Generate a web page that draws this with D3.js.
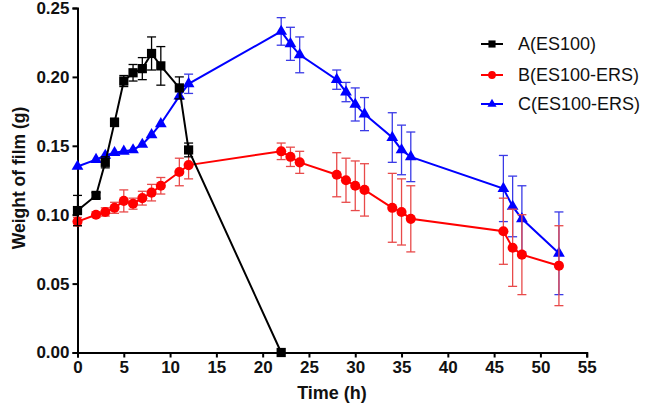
<!DOCTYPE html>
<html><head><meta charset="utf-8">
<script src="https://cdn.jsdelivr.net/npm/d3@7"></script>
<style>body{margin:0;background:#fff}svg{display:block}text{font-family:"Liberation Sans",Arial,sans-serif}</style>
</head><body><svg id="c" width="649" height="408"></svg>
<script>
const xTicks = [0,5,10,15,20,25,30,35,40,45,50,55];
const yTicks = [0.00,0.05,0.10,0.15,0.20,0.25];
const seriesNames = ["A(ES100)","B(ES100-ERS)","C(ES100-ERS)"];

const timeA = [0,2,3,4,5,6,7,8,9,11,12,22];
const valA  = [0.103,0.114,0.138,0.167,0.197,0.203,0.206,0.217,0.208,0.192,0.147,0.000];
const errA  = [0.011,0.002,0.004,0.003,0.004,0.006,0.008,0.012,0.014,0.008,0.005,0.000];

const timeBC = [0,2,3,4,5,6,7,8,9,11,12,22,23,24,28,29,30,31,34,35,36,46,47,48,52];
const valB = [0.095,0.100,0.102,0.105,0.110,0.108,0.112,0.116,0.121,0.131,0.136,0.146,0.142,0.138,0.129,0.125,0.121,0.118,0.105,0.102,0.097,0.088,0.076,0.071,0.063];
const errB = [0.003,0.002,0.003,0.004,0.008,0.004,0.005,0.006,0.006,0.010,0.010,0.006,0.007,0.008,0.016,0.016,0.018,0.019,0.025,0.024,0.024,0.024,0.028,0.029,0.029];
const valC = [0.135,0.140,0.143,0.145,0.146,0.147,0.151,0.158,0.166,0.186,0.195,0.233,0.224,0.216,0.198,0.189,0.180,0.173,0.156,0.147,0.142,0.119,0.106,0.097,0.072];
const errC = [0.000,0.000,0.000,0.000,0.000,0.000,0.000,0.000,0.000,0.000,0.007,0.010,0.012,0.013,0.007,0.007,0.012,0.012,0.018,0.018,0.018,0.024,0.022,0.024,0.030];

const series = [
  {name:seriesNames[0], t:timeA, v:valA, e:errA, color:"#000000", err:"#000000", sym:d3.symbolSquare, size:85},
  {name:seriesNames[1], t:timeBC, v:valB, e:errB, color:"#ff0000", err:"#e84a4a", sym:d3.symbolCircle, size:80},
  {name:seriesNames[2], t:timeBC, v:valC, e:errC, color:"#0000ff", err:"#3a3ae6", sym:d3.symbolTriangle, size:60}
];

const svg = d3.select("#c");
const x = d3.scaleLinear().domain([0,55]).range([77.5,586.7]);
const y = d3.scaleLinear().domain([0,0.25]).range([352.5,8]);

const xAxis = svg.append("g").attr("transform","translate(0,352.5)")
  .call(d3.axisBottom(x).tickValues(xTicks).tickSize(5).tickPadding(3).tickFormat(d3.format("d")));
const yAxis = svg.append("g").attr("transform","translate(77.5,0)")
  .call(d3.axisLeft(y).tickValues(yTicks).tickSize(5).tickPadding(3).tickFormat(d3.format(".2f")));
[xAxis,yAxis].forEach(a=>{
  a.select(".domain").attr("stroke","#000").attr("stroke-width",2);
  a.selectAll(".tick line").attr("stroke","#000").attr("stroke-width",2);
  a.selectAll(".tick text").attr("fill","#111").attr("font-size",17).attr("font-weight","bold")
   .attr("font-family","'Liberation Sans',Arial,sans-serif");
});

svg.append("text").attr("x",332).attr("y",399).attr("text-anchor","middle")
  .attr("font-size",18).attr("font-weight","bold").attr("fill","#111").text("Time (h)");
svg.append("text").attr("transform","translate(25,178) rotate(-90)").attr("text-anchor","middle")
  .attr("font-size",17.5).attr("font-weight","bold").attr("fill","#111").text("Weight of film (g)");

const line = d3.line().x(d=>x(d[0])).y(d=>y(d[1]));
series.slice().reverse().forEach(s=>{
  const pts = s.t.map((t,i)=>[t,s.v[i],s.e[i]]);
  const g = svg.append("g");
  g.append("path").datum(pts).attr("d",line).attr("fill","none").attr("stroke",s.color).attr("stroke-width",2);
  const eb = g.selectAll(".eb").data(pts.filter(p=>p[2]>0)).enter().append("g");
  eb.append("line").attr("x1",d=>x(d[0])).attr("x2",d=>x(d[0])).attr("y1",d=>y(d[1]-d[2])).attr("y2",d=>y(d[1]+d[2]))
    .attr("stroke",s.err).attr("stroke-width",1.3);
  [1,-1].forEach(sg=>{
    eb.append("line").attr("x1",d=>x(d[0])-4.5).attr("x2",d=>x(d[0])+4.5)
      .attr("y1",d=>y(d[1]+sg*d[2])).attr("y2",d=>y(d[1]+sg*d[2]))
      .attr("stroke",s.err).attr("stroke-width",1.3);
  });
  g.selectAll(".m").data(pts).enter().append("path")
    .attr("transform",d=>`translate(${x(d[0])},${y(d[1])})`)
    .attr("d",d3.symbol().type(s.sym).size(s.size)).attr("fill",s.color);
});

const leg = svg.append("g");
series.forEach((s,i)=>{
  const ly = [44,75,104][i];
  leg.append("line").attr("x1",481).attr("x2",503).attr("y1",ly).attr("y2",ly).attr("stroke",s.color).attr("stroke-width",2);
  leg.append("path").attr("transform",`translate(492,${ly})`).attr("d",d3.symbol().type(s.sym).size(s.size*0.6)).attr("fill",s.color);
  leg.append("text").attr("x",518).attr("y",ly+6).attr("font-size",18).attr("fill","#111").text(s.name);
});
</script></body></html>
